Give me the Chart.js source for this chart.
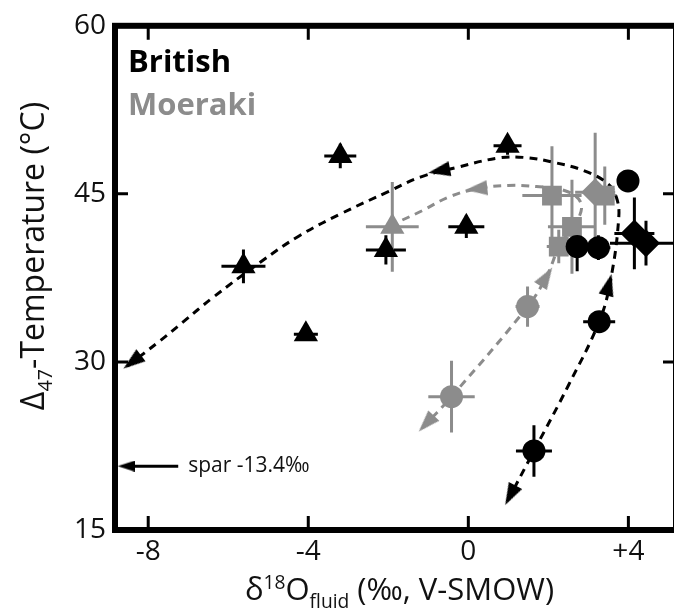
<!DOCTYPE html>
<html lang="en">
<head>
<meta charset="UTF-8" />
<title>Clumped isotope temperature vs fluid oxygen isotopes</title>
<script src="https://cdn.jsdelivr.net/npm/chart.js@4.4.0/dist/chart.umd.min.js"></script>
<style>
  html, body { margin: 0; padding: 0; background: #fff; overflow: hidden; }
  #wrap { width: 674px; height: 616px; overflow: hidden; }
  canvas { display: block; }
</style>
</head>
<body>
<div id="wrap"><canvas id="chart" width="690" height="616"></canvas></div>
<script>
// axis setup
const xTicks = [-8, -4, 0, 4];
const xTickLabels = ["-8", "-4", "0", "+4"];
const yTicks = [15, 30, 45, 60];
const yTickLabels = ["15", "30", "45", "60"];

// British samples (black)
const brTriX = [-5.62, -4.06, -3.2, -2.06, -0.05, 0.98];
const brTriY = [38.53, 32.47, 48.38, 40.0, 42.06, 49.3];
const brTriXErr = [0.55, 0.3, 0.4, 0.5, 0.45, 0.35];
const brTriYErr = [1.5, 0.6, 1.1, 1.3, 1.0, 0.8];

const brCircX = [1.64, 3.27, 2.72, 3.25, 3.99];
const brCircY = [22.06, 33.59, 40.3, 40.2, 46.15];
const brCircXErr = [0.45, 0.4, 0.3, 0.3, 0.2];
const brCircYErr = [2.3, 0.9, 2.2, 1.1, 0.3];

const brDiaX = [4.15, 4.44];
const brDiaY = [41.47, 40.6];
const brDiaXErr = [0.5, 0.9];
const brDiaYErr = [3.2, 2.0];

// Moeraki samples (grey)
const moTriX = [-1.9];
const moTriY = [42.06];
const moTriXErr = [0.66];
const moTriYErr = [4.0];

const moSqX = [2.09, 2.59, 2.26, 3.41];
const moSqY = [44.85, 42.06, 40.3, 44.85];
const moSqXErr = [0.74, 0.6, 0.3, 0.3];
const moSqYErr = [4.4, 4.2, 1.5, 2.6];

const moDiaX = [3.17];
const moDiaY = [45.15];
const moDiaXErr = [0.5];
const moDiaYErr = [5.3];

const moCircX = [1.48, -0.42];
const moCircY = [34.94, 26.9];
const moCircXErr = [0.3, 0.58];
const moCircYErr = [1.8, 3.2];

// dashed trend paths
const blackPathX = [0.98, 1.64, 2.5, 3.27, 3.55, 3.76, 3.7, 3.49, 2.9, 2.15, 1.4, 0.75, -0.3, -1.2, -2.0, -3.2, -4.25, -5.2, -6.4, -7.15, -7.7, -8.55];
const blackPathY = [17.6, 22.06, 27.9, 33.6, 37.2, 42.9, 44.7, 45.9, 47.06, 47.8, 48.25, 48.2, 47.35, 46.5, 45.2, 43.2, 41.2, 38.9, 35.7, 33.5, 31.9, 29.55];
const greyPathX = [-1.15, -0.42, 1.48, 1.95, 2.3, 2.75, 2.8, 2.4, 1.7, 1.0, 0.2, -0.5, -1.15, -1.75];
const greyPathY = [24.1, 26.9, 34.94, 37.6, 40.5, 42.8, 44.3, 45.3, 45.65, 45.75, 45.45, 44.7, 43.5, 42.5];

// arrowheads: tip point and the point they come from
const blackArrowX = [1.05, 3.51, -0.73, -8.4];
const blackArrowY = [18.1, 36.9, 47.06, 30.0];
const blackArrowFromX = [1.3, 3.27, -0.3, -7.7];
const blackArrowFromY = [19.8, 33.6, 47.35, 31.9];
const greyArrowX = [-1.05, 1.95, 0.2];
const greyArrowY = [24.5, 37.6, 45.45];
const greyArrowFromX = [-0.42, 1.48, 1.0];
const greyArrowFromY = [26.9, 34.94, 45.75];

// spar note
const sparX = [-7.25, -8.55];
const sparY = [20.7, 20.7];
const sparText = "spar -13.4\u2030";

const BLACK = "#000";
const GREY = "#8c8c8c";
const FONT = "'Open Sans', 'DejaVu Sans', sans-serif";

function pts(xs, ys) {
    return xs.map((x, i) => ({ x: x, y: ys[i] }));
}
function arrows(xs, ys, fx, fy) {
    return xs.map((x, i) => ({ x: x, y: ys[i], fx: fx[i], fy: fy[i] }));
}

// narrow arrowhead image, tip up; chart.js rotates it per point
function headImage(color, w, h) {
    const cv = document.createElement("canvas");
    cv.width = w;
    cv.height = h;
    const c = cv.getContext("2d");
    c.fillStyle = color;
    c.beginPath();
    c.moveTo(w / 2, 0);
    c.lineTo(w, h);
    c.lineTo(0, h);
    c.closePath();
    c.fill();
    return cv;
}

function marker(data, style, radius, color, ex, ey) {
    return {
        data: data,
        pointStyle: style,
        pointRadius: radius,
        pointHoverRadius: radius,
        backgroundColor: color,
        borderColor: color,
        borderWidth: 0,
        errX: ex,
        errY: ey,
        order: color === BLACK ? 1 : 2,
    };
}

function path(data, color) {
    return {
        data: data,
        showLine: true,
        borderColor: color,
        borderWidth: 3,
        borderDash: [8, 6],
        tension: 0.4,
        pointRadius: 0,
        fill: false,
        order: 4,
    };
}

function arrowHead(ctx) {
    const p = ctx.raw;
    if (!p || p.fx === undefined) return 0;
    const sx = ctx.chart.scales.x;
    const sy = ctx.chart.scales.y;
    const dx = sx.getPixelForValue(p.x) - sx.getPixelForValue(p.fx);
    const dy = sy.getPixelForValue(p.y) - sy.getPixelForValue(p.fy);
    return (Math.atan2(dx, -dy) * 180) / Math.PI;
}

function arrowSet(data, color, img) {
    return {
        data: data,
        pointStyle: img,
        pointRadius: 10,
        backgroundColor: color,
        borderColor: color,
        borderWidth: 0,
        rotation: arrowHead,
        order: 3,
    };
}

// error bars under the markers
const errorBars = {
    id: "errorBars",
    beforeDatasetsDraw(chart) {
        const c = chart.ctx;
        const sx = chart.scales.x;
        const sy = chart.scales.y;
        chart.data.datasets.forEach((ds) => {
            if (!ds.errX) return;
            c.save();
            c.strokeStyle = ds.borderColor;
            c.lineWidth = 3;
            ds.data.forEach((p, i) => {
                const px = sx.getPixelForValue(p.x);
                const py = sy.getPixelForValue(p.y);
                c.beginPath();
                c.moveTo(sx.getPixelForValue(p.x - ds.errX[i]), py);
                c.lineTo(sx.getPixelForValue(p.x + ds.errX[i]), py);
                c.moveTo(px, sy.getPixelForValue(p.y - ds.errY[i]));
                c.lineTo(px, sy.getPixelForValue(p.y + ds.errY[i]));
                c.stroke();
            });
            c.restore();
        });
    },
};

// heavy frame with inward ticks on all four sides
const frame = {
    id: "frame",
    afterDatasetsDraw(chart) {
        const c = chart.ctx;
        const a = chart.chartArea;
        const sx = chart.scales.x;
        const sy = chart.scales.y;
        c.save();
        c.strokeStyle = BLACK;
        c.lineWidth = 3;
        c.beginPath();
        xTicks.forEach((v) => {
            const px = sx.getPixelForValue(v);
            c.moveTo(px, a.bottom);
            c.lineTo(px, a.bottom - 14);
            c.moveTo(px, a.top);
            c.lineTo(px, a.top + 14);
        });
        yTicks.forEach((v) => {
            const py = sy.getPixelForValue(v);
            c.moveTo(a.left, py);
            c.lineTo(a.left + 13, py);
            c.moveTo(a.right, py);
            c.lineTo(a.right - 13, py);
        });
        c.stroke();
        c.lineWidth = 6;
        c.strokeRect(a.left, a.top, a.right - a.left, a.bottom - a.top);
        c.restore();
    },
};

function drawParts(c, parts, size, x, y) {
    let total = 0;
    parts.forEach((p) => {
        const s = p.k === "n" ? size : size * 0.62;
        c.font = s + "px " + FONT;
        p.w = c.measureText(p.t).width;
        total += p.w;
    });
    let cx = x - total / 2;
    parts.forEach((p) => {
        const s = p.k === "n" ? size : size * 0.62;
        c.font = s + "px " + FONT;
        let dy = 0;
        if (p.k === "sup") dy = -size * 0.36;
        if (p.k === "sub") dy = size * 0.26;
        c.fillText(p.t, cx, y + dy);
        cx += p.w;
    });
}

const labels = {
    id: "labels",
    afterDraw(chart) {
        const c = chart.ctx;
        const a = chart.chartArea;
        const sx = chart.scales.x;
        const sy = chart.scales.y;
        c.save();
        c.fillStyle = "#111";
        c.textBaseline = "alphabetic";
        c.textAlign = "left";

        // x title
        drawParts(
            c,
            [
                { t: "\u03b4", k: "n" },
                { t: "18", k: "sup" },
                { t: "O", k: "n" },
                { t: "fluid", k: "sub" },
                { t: " (\u2030, V-SMOW)", k: "n" },
            ],
            31,
            (a.left + a.right) / 2 + 4,
            600
        );

        // y title
        c.save();
        c.translate(44, 256);
        c.rotate(-Math.PI / 2);
        drawParts(
            c,
            [
                { t: "\u0394", k: "n" },
                { t: "47", k: "sub" },
                { t: "-Temperature (\u00b0C)", k: "n" },
            ],
            32,
            0,
            0
        );
        c.restore();

        // legend
        c.font = "bold 31px " + FONT;
        c.fillStyle = BLACK;
        c.fillText("British", a.left + 13, 72);
        c.fillStyle = GREY;
        c.fillText("Moeraki", a.left + 13, 115);

        // spar note
        c.font = "21px " + FONT;
        c.fillStyle = "#111";
        c.textBaseline = "middle";
        c.fillText(sparText, sx.getPixelForValue(sparX[0]) + 10, sy.getPixelForValue(sparY[0]));
        c.restore();
    },
};

const blackHead = headImage(BLACK, 15, 22);
const greyHead = headImage(GREY, 15, 22);
const sparHead = headImage(BLACK, 11, 17);

new Chart(document.getElementById("chart"), {
    type: "scatter",
    data: {
        datasets: [
            marker(pts(brTriX, brTriY), "triangle", 14, BLACK, brTriXErr, brTriYErr),
            marker(pts(brCircX, brCircY), "circle", 11.5, BLACK, brCircXErr, brCircYErr),
            marker(pts(brDiaX, brDiaY), "rectRot", 14, BLACK, brDiaXErr, brDiaYErr),
            marker(pts(moTriX, moTriY), "triangle", 14, GREY, moTriXErr, moTriYErr),
            marker(pts(moSqX, moSqY), "rect", 14, GREY, moSqXErr, moSqYErr),
            marker(pts(moDiaX, moDiaY), "rectRot", 14, GREY, moDiaXErr, moDiaYErr),
            marker(pts(moCircX, moCircY), "circle", 11.5, GREY, moCircXErr, moCircYErr),
            arrowSet(arrows(blackArrowX, blackArrowY, blackArrowFromX, blackArrowFromY), BLACK, blackHead),
            arrowSet(arrows(greyArrowX, greyArrowY, greyArrowFromX, greyArrowFromY), GREY, greyHead),
            arrowSet(arrows([sparX[1]], [sparY[1]], [sparX[0]], [sparY[0]]), BLACK, sparHead),
            path(pts(blackPathX, blackPathY), BLACK),
            path(pts(greyPathX, greyPathY), GREY),
            {
                data: pts(sparX, sparY),
                showLine: true,
                borderColor: BLACK,
                borderWidth: 3,
                pointRadius: 0,
                order: 4,
            },
        ],
    },
    options: {
        responsive: false,
        animation: false,
        layout: { padding: { top: 20, right: 8, left: 0, bottom: 0 } },
        plugins: {
            legend: { display: false },
            tooltip: { enabled: false },
        },
        scales: {
            x: {
                type: "linear",
                min: -8.83,
                max: 5.19,
                grid: { display: false, drawTicks: false },
                border: { display: false },
                afterBuildTicks: (scale) => {
                    scale.ticks = xTicks.map((v) => ({ value: v }));
                },
                afterFit: (scale) => {
                    scale.height = 86;
                },
                ticks: {
                    padding: 5,
                    color: "#111",
                    font: { family: FONT, size: 28 },
                    callback: (v, i) => xTickLabels[i],
                },
            },
            y: {
                type: "linear",
                min: 15,
                max: 60,
                grid: { display: false, drawTicks: false },
                border: { display: false },
                afterBuildTicks: (scale) => {
                    scale.ticks = yTicks.map((v) => ({ value: v }));
                },
                afterFit: (scale) => {
                    scale.width = 115;
                },
                ticks: {
                    padding: 9,
                    color: "#111",
                    font: { family: FONT, size: 28 },
                    callback: (v, i) => yTickLabels[i],
                },
            },
        },
    },
    plugins: [errorBars, frame, labels],
});
</script>
</body>
</html>
